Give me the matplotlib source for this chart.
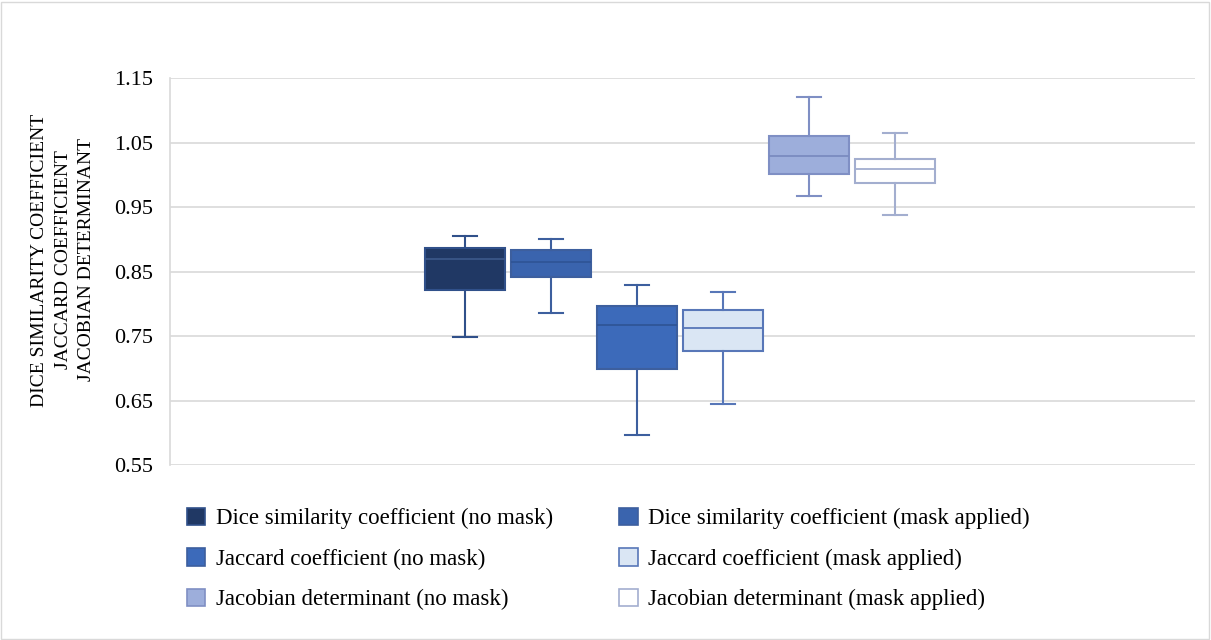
import matplotlib.pyplot as plt
from matplotlib.patches import Patch, Rectangle

# series in plotting order (left to right)
names = ["Dice similarity coefficient (no mask)",
         "Dice similarity coefficient (mask applied)",
         "Jaccard coefficient (no mask)",
         "Jaccard coefficient (mask applied)",
         "Jacobian determinant (no mask)",
         "Jacobian determinant (mask applied)"]
whislo = [0.748, 0.786, 0.597, 0.645, 0.967, 0.938]
q1 = [0.821, 0.842, 0.699, 0.727, 1.001, 0.987]
med = [0.869, 0.865, 0.767, 0.762, 1.029, 1.009]
q3 = [0.887, 0.884, 0.797, 0.790, 1.060, 1.024]
whishi = [0.905, 0.900, 0.829, 0.818, 1.120, 1.065]
yticks = [0.55, 0.65, 0.75, 0.85, 0.95, 1.05, 1.15]

fills = ["#203864", "#3A64AE", "#3C6ABA", "#DAE6F4", "#9DAEDB", "#FFFFFF"]
edges = ["#30508A", "#3D5F9E", "#3D5F9E", "#5877B8", "#7F8FC4", "#A3AECF"]
medcols = ["#3A5688", "#2F5597", "#2F5597", "#5877B8", "#7A8BC0", "#A3AECF"]

plt.rcParams['font.family'] = ['Liberation Serif', 'DejaVu Serif']

fig = plt.figure(figsize=(12.11, 6.4), dpi=100)
ax = fig.add_axes([0.1404, 0.2734, 0.8464, 0.6046])

stats = []
for i in range(len(names)):
    stats.append(dict(whislo=whislo[i], q1=q1[i], med=med[i], q3=q3[i],
                      whishi=whishi[i], fliers=[], label=names[i]))

pos = list(range(len(names)))
bp = ax.bxp(stats, positions=pos, widths=0.93, capwidths=0.27,
            patch_artist=True, showfliers=False, manage_ticks=False)
for i in range(len(names)):
    bp['boxes'][i].set_facecolor(fills[i])
    bp['boxes'][i].set_edgecolor(edges[i])
    bp['boxes'][i].set_linewidth(1.5)
    bp['medians'][i].set_color(medcols[i])
    bp['medians'][i].set_linewidth(1.3)
    for w in bp['whiskers'][2 * i:2 * i + 2]:
        w.set_color(edges[i])
        w.set_linewidth(1.5)
    for c in bp['caps'][2 * i:2 * i + 2]:
        c.set_color(edges[i])
        c.set_linewidth(1.5)

ax.set_xlim(-3.43, 8.49)
ax.set_ylim(0.55, 1.15)
ax.set_yticks(yticks)
ax.set_yticklabels(["%.2f" % t for t in yticks], fontsize=16)
ax.set_xticks([])
ax.tick_params(axis='y', length=0, pad=12)
ax.grid(axis='y', color='#D9D9D9', linewidth=1.2)
ax.set_axisbelow(True)
for s in ['top', 'right', 'bottom']:
    ax.spines[s].set_visible(False)
ax.spines['left'].set_color('#D9D9D9')
ax.spines['left'].set_linewidth(1.2)

ax.set_ylabel("DICE SIMILARITY COEFFICIENT\nJACCARD COEFFICIENT\nJACOBIAN DETERMINANT",
              fontsize=14, linespacing=1.5)
ax.yaxis.set_label_coords(-0.073, 0.53)

# legend: first column no mask, second column mask applied
order = [0, 2, 4, 1, 3, 5]
handles = [Patch(facecolor=fills[i], edgecolor=edges[i], linewidth=1.2) for i in order]
labels = [names[i] for i in order]
fig.legend(handles, labels, loc='upper left', bbox_to_anchor=(0.1544, 0.207),
           ncol=2, frameon=False, fontsize=16.5, handlelength=0.8, handleheight=0.8,
           handletextpad=0.45, columnspacing=2.9, labelspacing=0.82,
           borderpad=0, borderaxespad=0)

fig.patches.append(Rectangle((0.001, 0.001), 0.997, 0.996, transform=fig.transFigure,
                             fill=False, edgecolor='#D9D9D9', linewidth=1))

fig.savefig("out.png", dpi=100)
